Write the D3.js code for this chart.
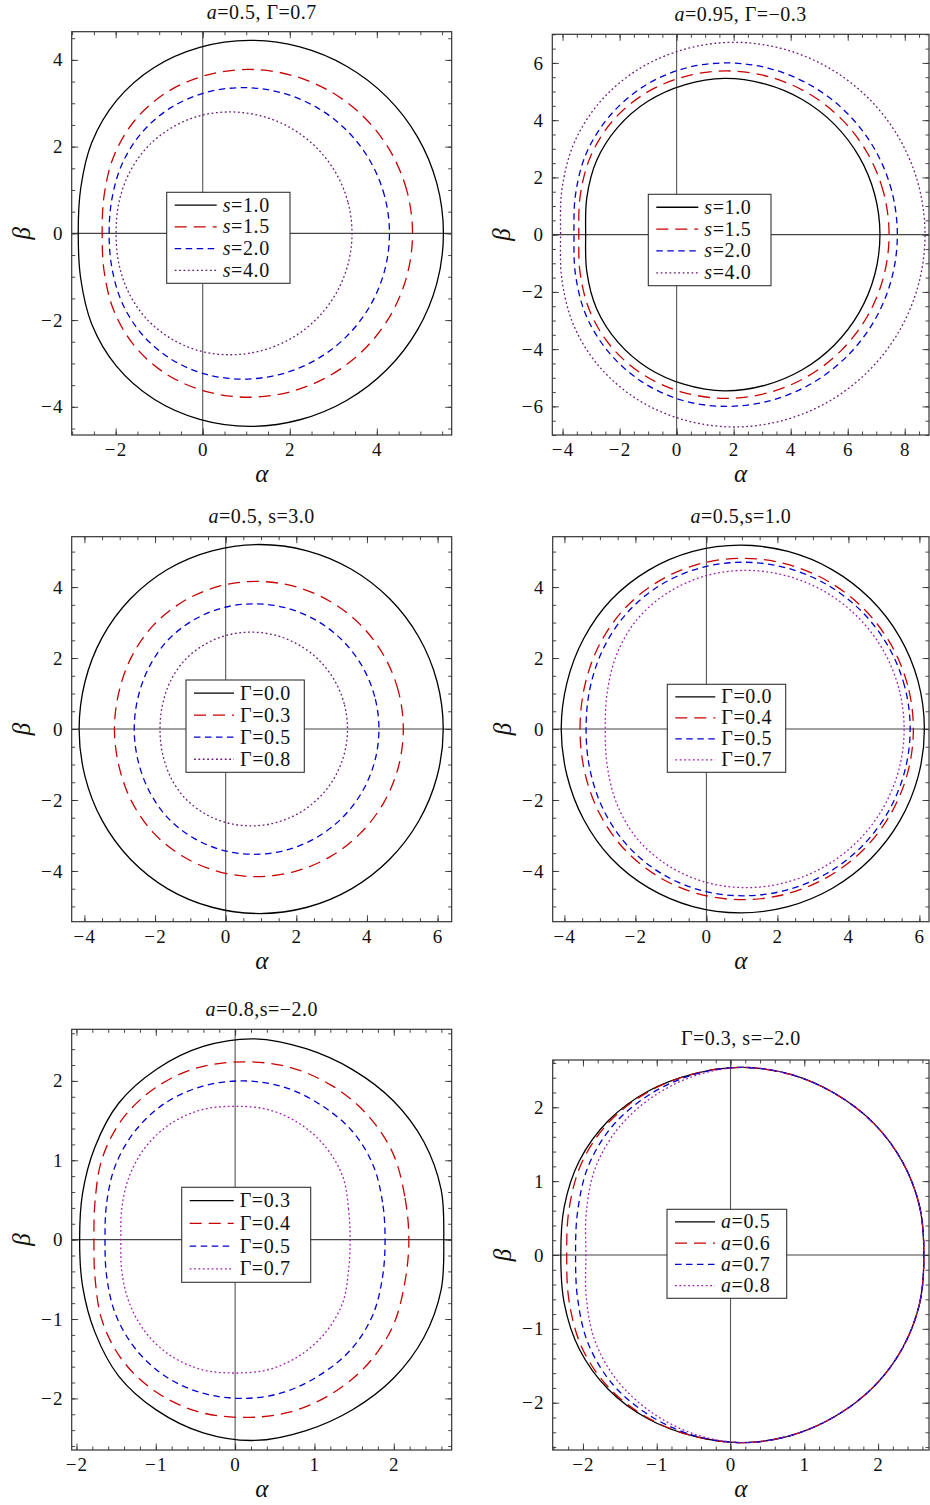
<!DOCTYPE html>
<html>
<head>
<meta charset="utf-8">
<script src="https://cdn.jsdelivr.net/npm/d3@7"></script>
<style>
  body { margin: 0; background: #fff; }
  svg { display: block; font-family: "Liberation Serif", "Times New Roman", serif; }
</style>
</head>
<body>
<svg id="chart" width="930" height="1505"></svg>
<script>
// polar sampling of the upper half of every shadow curve (degrees from +alpha axis)
const angles = [0, 15, 30, 45, 60, 75, 90, 105, 120, 135, 150, 165, 180];

// panel 1 : a=0.5, Γ=0.7
const p1Values = [`1.0`, `1.5`, `2.0`, `4.0`];
const p1Centers = [1.08, 1.04, 0.93, 0.63];
const p1Radii = [
  [4.45, 4.45, 4.45, 4.45, 4.45, 4.45, 4.45, 4.44, 4.41, 4.33, 4.19, 4.02, 3.94],
  [3.78, 3.78, 3.78, 3.78, 3.78, 3.78, 3.78, 3.77, 3.75, 3.68, 3.56, 3.42, 3.35],
  [3.36, 3.36, 3.36, 3.36, 3.36, 3.36, 3.36, 3.36, 3.34, 3.29, 3.21, 3.12, 3.08],
  [2.80, 2.80, 2.80, 2.80, 2.80, 2.80, 2.80, 2.80, 2.78, 2.75, 2.70, 2.65, 2.62]
];
const p1XTicks = [-2, 0, 2, 4];
const p1YTicks = [-4, -2, 0, 2, 4];

// panel 2 : a=0.95, Γ=-0.3
const p2Values = [`1.0`, `1.5`, `2.0`, `4.0`];
const p2Centers = [1.68, 1.73, 1.74, 1.99];
const p2Radii = [
  [5.45, 5.45, 5.45, 5.45, 5.45, 5.45, 5.46, 5.42, 5.38, 5.30, 5.18, 5.00, 4.87],
  [5.72, 5.72, 5.72, 5.72, 5.72, 5.72, 5.72, 5.71, 5.69, 5.62, 5.48, 5.29, 5.16],
  [6.00, 6.00, 6.00, 6.00, 6.00, 6.00, 6.00, 5.99, 5.93, 5.82, 5.67, 5.47, 5.34],
  [6.72, 6.72, 6.72, 6.72, 6.72, 6.72, 6.72, 6.70, 6.67, 6.59, 6.44, 6.22, 6.06]
];
const p2XTicks = [-4, -2, 0, 2, 4, 6, 8];
const p2YTicks = [-6, -4, -2, 0, 2, 4, 6];

// panel 3 : a=0.5, s=3.0
const p3Values = [`0.0`, `0.3`, `0.5`, `0.8`];
const p3Centers = [0.96, 0.87, 0.81, 0.72];
const p3Radii = [
  [5.20, 5.20, 5.20, 5.20, 5.20, 5.20, 5.20, 5.20, 5.20, 5.18, 5.15, 5.12, 5.11],
  [4.16, 4.16, 4.16, 4.16, 4.16, 4.16, 4.16, 4.16, 4.15, 4.13, 4.08, 4.03, 4.02],
  [3.53, 3.53, 3.53, 3.53, 3.53, 3.53, 3.53, 3.53, 3.52, 3.50, 3.45, 3.41, 3.40],
  [2.73, 2.73, 2.73, 2.73, 2.73, 2.73, 2.73, 2.73, 2.72, 2.70, 2.65, 2.60, 2.58]
];
const p3XTicks = [-4, -2, 0, 2, 4, 6];
const p3YTicks = [-4, -2, 0, 2, 4];

// panel 4 : a=0.5, s=1.0
const p4Values = [`0.0`, `0.4`, `0.5`, `0.7`];
const p4Centers = [0.96, 1.02, 1.04, 1.10];
const p4Radii = [
  [5.18, 5.18, 5.18, 5.18, 5.18, 5.18, 5.18, 5.18, 5.17, 5.15, 5.10, 5.06, 5.05],
  [4.81, 4.81, 4.81, 4.81, 4.81, 4.81, 4.81, 4.81, 4.79, 4.75, 4.68, 4.61, 4.58],
  [4.70, 4.70, 4.70, 4.70, 4.70, 4.70, 4.70, 4.70, 4.68, 4.63, 4.55, 4.47, 4.43],
  [4.47, 4.47, 4.47, 4.47, 4.47, 4.47, 4.47, 4.46, 4.42, 4.34, 4.19, 4.03, 3.95]
];
const p4XTicks = [-4, -2, 0, 2, 4, 6];
const p4YTicks = [-4, -2, 0, 2, 4];

// panel 5 : a=0.8, s=-2.0
const p5Values = [`0.3`, `0.4`, `0.5`, `0.7`];
const p5Centers = [0.25, 0.10, 0.10, 0.00];
const p5Radii = [
  [2.38, 2.43, 2.46, 2.47, 2.47, 2.49, 2.53, 2.52, 2.48, 2.43, 2.33, 2.25, 2.21],
  [2.09, 2.11, 2.18, 2.22, 2.24, 2.25, 2.24, 2.24, 2.21, 2.15, 2.05, 1.93, 1.88],
  [1.79, 1.82, 1.89, 1.94, 1.96, 1.99, 2.00, 2.00, 1.98, 1.93, 1.86, 1.78, 1.74],
  [1.45, 1.48, 1.57, 1.63, 1.67, 1.69, 1.68, 1.69, 1.67, 1.62, 1.55, 1.48, 1.44]
];
const p5XTicks = [-2, -1, 0, 1, 2];
const p5YTicks = [-2, -1, 0, 1, 2];

// panel 6 : Γ=0.3, s=-2.0
const p6Values = [`0.5`, `0.6`, `0.7`, `0.8`];
const p6Centers = [0.16, 0.16, 0.16, 0.16];
const p6Radii = [
  [2.46, 2.49, 2.51, 2.52, 2.52, 2.53, 2.54, 2.54, 2.56, 2.57, 2.55, 2.50, 2.46],
  [2.46, 2.49, 2.51, 2.52, 2.52, 2.53, 2.54, 2.54, 2.55, 2.55, 2.51, 2.43, 2.38],
  [2.46, 2.49, 2.51, 2.52, 2.52, 2.53, 2.54, 2.53, 2.51, 2.48, 2.41, 2.31, 2.26],
  [2.46, 2.49, 2.51, 2.52, 2.52, 2.53, 2.54, 2.51, 2.46, 2.40, 2.31, 2.19, 2.12]
];
const p6XTicks = [-2, -1, 0, 1, 2];
const p6YTicks = [-2, -1, 0, 1, 2];

const darkPurple = `#6a1a78`;
const brightPurple = `#a21cb2`;
const lineStyles = [
  {color: `#000`, dash: null},
  {color: `#c80000`, dash: `12,7`},
  {color: `#0000d0`, dash: `6.5,4.5`}
];

const svg = d3.select(`#chart`);
const fmt = d => d < 0 ? `\u2212${-d}` : `${d}`;

const drawPanel = (p, idx) => {
  const x = d3.scaleLinear().domain(p.xDomain).range([p.left, p.right]);
  const y = d3.scaleLinear().domain(p.yDomain).range([p.bottom, p.top]);
  const w = p.right - p.left;
  const h = p.bottom - p.top;

  const g = svg.append(`g`);

  g.append(`clipPath`).attr(`id`, `clip${idx}`)
    .append(`rect`)
    .attr(`x`, p.left).attr(`y`, p.top)
    .attr(`width`, w).attr(`height`, h);

  const plot = g.append(`g`).attr(`clip-path`, `url(#clip${idx})`);

  // axes through the origin
  plot.append(`line`)
    .attr(`x1`, x(0)).attr(`x2`, x(0))
    .attr(`y1`, p.top).attr(`y2`, p.bottom)
    .attr(`stroke`, `#555`).attr(`stroke-width`, 1.1);
  plot.append(`line`)
    .attr(`x1`, p.left).attr(`x2`, p.right)
    .attr(`y1`, y(0)).attr(`y2`, y(0))
    .attr(`stroke`, `#444`).attr(`stroke-width`, 1.1);

  const line = d3.line()
    .x(d => x(d[0]))
    .y(d => y(d[1]))
    .curve(d3.curveCatmullRomClosed.alpha(0.5));

  const styles = lineStyles.concat([{color: p.purple, dash: `1.8,2.6`}]);

  p.radii.forEach((rs, i) => {
    const upper = angles.map((t, k) => {
      const rad = t * Math.PI / 180;
      return [p.centers[i] + rs[k] * Math.cos(rad), rs[k] * Math.sin(rad)];
    });
    const lower = upper.slice(1, -1).reverse().map(d => [d[0], -d[1]]);
    plot.append(`path`)
      .attr(`d`, line(upper.concat(lower)))
      .attr(`fill`, `none`)
      .attr(`stroke`, styles[i].color)
      .attr(`stroke-width`, 1.3)
      .attr(`stroke-dasharray`, styles[i].dash);
  });

  // frame ticks (inward, all four sides)
  const minor = (dom, step) => {
    const out = [];
    for (let v = Math.ceil(dom[0] / step) * step; v <= dom[1] + 1e-9; v += step) {
      out.push(Math.round(v * 1000) / 1000);
    }
    return out;
  };
  const xMinor = minor(p.xDomain, p.minorStep);
  const yMinor = minor(p.yDomain, p.minorStep);

  const addAxis = (axisFn, scale, values, size, translate, labels) => {
    const a = g.append(`g`)
      .attr(`transform`, translate)
      .call(axisFn(scale).tickValues(values).tickSize(size).tickPadding(labels ? p.pad : 0)
        .tickFormat(labels ? fmt : () => ``));
    a.select(`.domain`).remove();
    a.attr(`font-family`, null).attr(`font-size`, null);
    a.selectAll(`line`).attr(`stroke`, `#333`).attr(`stroke-width`, 0.9);
    a.selectAll(`text`)
      .attr(`font-size`, 19)
      .attr(`fill`, `#111`)
      .attr(`letter-spacing`, 1.2);
    return a;
  };

  addAxis(d3.axisBottom, x, xMinor, -3.5, `translate(0,${p.bottom})`, false);
  addAxis(d3.axisBottom, x, p.xTicks, -6.5, `translate(0,${p.bottom})`, true);
  addAxis(d3.axisTop, x, xMinor, -3.5, `translate(0,${p.top})`, false);
  addAxis(d3.axisTop, x, p.xTicks, -6.5, `translate(0,${p.top})`, false);
  addAxis(d3.axisLeft, y, yMinor, -3.5, `translate(${p.left},0)`, false);
  addAxis(d3.axisLeft, y, p.yTicks, -6.5, `translate(${p.left},0)`, true);
  addAxis(d3.axisRight, y, yMinor, -3.5, `translate(${p.right},0)`, false);
  addAxis(d3.axisRight, y, p.yTicks, -6.5, `translate(${p.right},0)`, false);

  g.append(`rect`)
    .attr(`x`, p.left).attr(`y`, p.top)
    .attr(`width`, w).attr(`height`, h)
    .attr(`fill`, `none`)
    .attr(`stroke`, `#333`)
    .attr(`stroke-width`, 1.2);

  // title
  const title = g.append(`text`)
    .attr(`x`, (p.left + p.right) / 2)
    .attr(`y`, p.top - p.titleGap)
    .attr(`text-anchor`, `middle`)
    .attr(`font-size`, 20)
    .attr(`letter-spacing`, 0.5)
    .attr(`fill`, `#111`);
  p.title.forEach(part => {
    title.append(`tspan`)
      .attr(`font-style`, part.i ? `italic` : `normal`)
      .text(part.t);
  });

  // axis labels
  g.append(`text`)
    .attr(`x`, (p.left + p.right) / 2)
    .attr(`y`, p.bottom + 47)
    .attr(`text-anchor`, `middle`)
    .attr(`font-size`, 25)
    .attr(`font-style`, `italic`)
    .attr(`fill`, `#111`)
    .text(`\u03b1`);
  g.append(`text`)
    .attr(`transform`, `translate(${p.left - 42},${y(0)}) rotate(-90)`)
    .attr(`text-anchor`, `middle`)
    .attr(`font-size`, 25)
    .attr(`font-style`, `italic`)
    .attr(`fill`, `#111`)
    .text(`\u03b2`);

  // legend
  const lg = g.append(`g`).attr(`transform`, `translate(${p.legend[0]},${p.legend[1]})`);
  lg.append(`rect`)
    .attr(`width`, p.legend[2]).attr(`height`, p.legend[3])
    .attr(`fill`, `#fff`)
    .attr(`stroke`, `#333`)
    .attr(`stroke-width`, 1.1);
  const rowH = (p.legend[3] - 4) / 4;
  p.values.forEach((v, i) => {
    const cy = 2 + rowH * (i + 0.5);
    lg.append(`line`)
      .attr(`x1`, 8).attr(`x2`, 8 + p.sample)
      .attr(`y1`, cy).attr(`y2`, cy)
      .attr(`stroke`, styles[i].color)
      .attr(`stroke-width`, 1.3)
      .attr(`stroke-dasharray`, styles[i].dash);
    const t = lg.append(`text`)
      .attr(`x`, p.sample + 14)
      .attr(`y`, cy + 6.5)
      .attr(`font-size`, 20)
      .attr(`letter-spacing`, 0.6)
      .attr(`fill`, `#111`);
    t.append(`tspan`)
      .attr(`font-style`, p.symbolItalic ? `italic` : `normal`)
      .text(p.symbol);
    t.append(`tspan`).text(`=${v}`);
  });
};

const panels = [
  {
    left: 71.7, right: 451.7, top: 31.7, bottom: 435,
    xDomain: [-3.01, 5.72], yDomain: [-4.65, 4.65],
    xTicks: p1XTicks, yTicks: p1YTicks, minorStep: 0.5, pad: 8,
    centers: p1Centers, radii: p1Radii, values: p1Values,
    symbol: `s`, symbolItalic: true, purple: darkPurple,
    title: [{t: `a`, i: true}, {t: `=0.5, \u0393=0.7`}], titleGap: 13,
    legend: [166.7, 192.3, 123.3, 91], sample: 42
  },
  {
    left: 552.3, right: 929, top: 34.3, bottom: 435,
    xDomain: [-4.36, 8.85], yDomain: [-7.0, 7.0],
    xTicks: p2XTicks, yTicks: p2YTicks, minorStep: 0.5, pad: 8,
    centers: p2Centers, radii: p2Radii, values: p2Values,
    symbol: `s`, symbolItalic: true, purple: darkPurple,
    title: [{t: `a`, i: true}, {t: `=0.95, \u0393=\u22120.3`}], titleGap: 13,
    legend: [648.3, 194.3, 122.7, 91.4], sample: 42
  },
  {
    left: 71.7, right: 451.7, top: 536.7, bottom: 921.7,
    xDomain: [-4.36, 6.40], yDomain: [-5.43, 5.42],
    xTicks: p3XTicks, yTicks: p3YTicks, minorStep: 0.5, pad: 8,
    centers: p3Centers, radii: p3Radii, values: p3Values,
    symbol: `\u0393`, symbolItalic: false, purple: darkPurple,
    title: [{t: `a`, i: true}, {t: `=0.5, s=3.0`}], titleGap: 14,
    legend: [186, 680, 118.3, 92.3], sample: 40
  },
  {
    left: 552.7, right: 929, top: 536.7, bottom: 921.7,
    xDomain: [-4.33, 6.27], yDomain: [-5.43, 5.42],
    xTicks: p4XTicks, yTicks: p4YTicks, minorStep: 0.5, pad: 8,
    centers: p4Centers, radii: p4Radii, values: p4Values,
    symbol: `\u0393`, symbolItalic: false, purple: brightPurple,
    title: [{t: `a`, i: true}, {t: `=0.5,s=1.0`}], titleGap: 14,
    legend: [667.3, 684.3, 118.4, 88], sample: 40
  },
  {
    left: 71.7, right: 451.7, top: 1029.3, bottom: 1450,
    xDomain: [-2.06, 2.73], yDomain: [-2.65, 2.65],
    xTicks: p5XTicks, yTicks: p5YTicks, minorStep: 0.2, pad: 8,
    centers: p5Centers, radii: p5Radii, values: p5Values,
    symbol: `\u0393`, symbolItalic: false, purple: brightPurple,
    title: [{t: `a`, i: true}, {t: `=0.8,s=\u22122.0`}], titleGap: 13,
    legend: [181.7, 1187.3, 129, 95], sample: 44
  },
  {
    left: 552.7, right: 929, top: 1060, bottom: 1450,
    xDomain: [-2.41, 2.69], yDomain: [-2.64, 2.64],
    xTicks: p6XTicks, yTicks: p6YTicks, minorStep: 0.2, pad: 8,
    centers: p6Centers, radii: p6Radii, values: p6Values,
    symbol: `a`, symbolItalic: true, purple: brightPurple,
    title: [{t: `\u0393=0.3, s=\u22122.0`}], titleGap: 15,
    legend: [667, 1209.3, 119.7, 89], sample: 40
  }
];

panels.forEach((p, i) => drawPanel(p, i));
</script>
</body>
</html>
